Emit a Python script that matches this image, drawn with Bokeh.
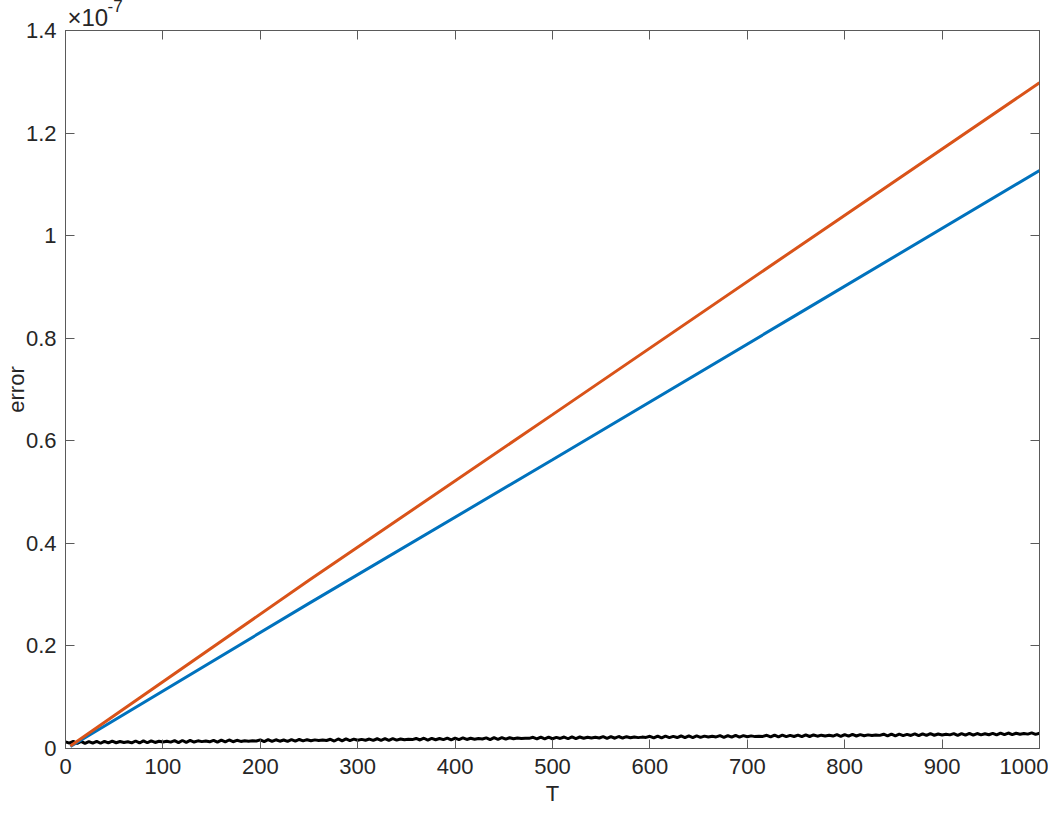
from bokeh.plotting import figure
from bokeh.models import LinearAxis, Range1d, FixedTicker, NumeralTickFormatter, Title
from bokeh.embed import file_html
from bokeh.resources import INLINE

# ---- data (error values in units of 1e-7) ----
exp_base_text = "\u00d710"
exp_power_text = "-7"
t_lines = [5, 250, 500, 750, 1000]
blue_err = [0.004, 0.283, 0.563, 0.845, 1.127]
orange_err = [0.005, 0.328, 0.651, 0.975, 1.298]

t_black = list(range(0, 1001, 4))
black_err = [
    0.0130, 0.0105, 0.0138, 0.0098, 0.0140, 0.0100, 0.0135, 0.0104, 0.0138, 0.0102,
    0.0140, 0.0108, 0.0142, 0.0112, 0.0136, 0.0118, 0.0132, 0.0110, 0.0146, 0.0108,
    0.0148, 0.0112, 0.0150, 0.0118, 0.0142, 0.0126, 0.0140, 0.0124, 0.0152, 0.0116,
    0.0156, 0.0120, 0.0158, 0.0126, 0.0150, 0.0134, 0.0146, 0.0130, 0.0160, 0.0124,
    0.0162, 0.0128, 0.0166, 0.0132, 0.0160, 0.0138, 0.0152, 0.0142, 0.0150, 0.0146,
    0.0168, 0.0136, 0.0172, 0.0138, 0.0170, 0.0142, 0.0166, 0.0140, 0.0174, 0.0144,
    0.0176, 0.0148, 0.0172, 0.0152, 0.0168, 0.0158, 0.0166, 0.0156, 0.0180, 0.0146,
    0.0186, 0.0150, 0.0188, 0.0154, 0.0182, 0.0160, 0.0178, 0.0162, 0.0184, 0.0158,
    0.0190, 0.0160, 0.0194, 0.0158, 0.0192, 0.0164, 0.0186, 0.0170, 0.0182, 0.0174,
    0.0196, 0.0166, 0.0200, 0.0164, 0.0198, 0.0170, 0.0194, 0.0172, 0.0202, 0.0168,
    0.0204, 0.0174, 0.0206, 0.0176, 0.0200, 0.0182, 0.0196, 0.0186, 0.0208, 0.0174,
    0.0212, 0.0180, 0.0214, 0.0182, 0.0210, 0.0190, 0.0204, 0.0194, 0.0200, 0.0198,
    0.0218, 0.0186, 0.0222, 0.0188, 0.0220, 0.0190, 0.0216, 0.0196, 0.0224, 0.0190,
    0.0226, 0.0194, 0.0224, 0.0200, 0.0220, 0.0206, 0.0218, 0.0204, 0.0230, 0.0196,
    0.0232, 0.0200, 0.0234, 0.0204, 0.0230, 0.0210, 0.0226, 0.0212, 0.0222, 0.0216,
    0.0238, 0.0206, 0.0242, 0.0208, 0.0240, 0.0212, 0.0236, 0.0214, 0.0244, 0.0210,
    0.0246, 0.0214, 0.0248, 0.0218, 0.0242, 0.0224, 0.0238, 0.0226, 0.0250, 0.0216,
    0.0252, 0.0220, 0.0254, 0.0222, 0.0250, 0.0228, 0.0246, 0.0232, 0.0240, 0.0236,
    0.0258, 0.0226, 0.0262, 0.0228, 0.0260, 0.0230, 0.0256, 0.0234, 0.0262, 0.0232,
    0.0266, 0.0234, 0.0264, 0.0240, 0.0260, 0.0244, 0.0258, 0.0242, 0.0270, 0.0236,
    0.0272, 0.0240, 0.0274, 0.0244, 0.0270, 0.0250, 0.0266, 0.0252, 0.0262, 0.0256,
    0.0278, 0.0246, 0.0282, 0.0248, 0.0280, 0.0252, 0.0276, 0.0254, 0.0284, 0.0250,
    0.0286, 0.0254, 0.0288, 0.0258, 0.0282, 0.0264, 0.0278, 0.0266, 0.0290, 0.0256,
    0.0292, 0.0262, 0.0294, 0.0260, 0.0292, 0.0266, 0.0288, 0.0268, 0.0296, 0.0264,
    0.0300, 0.0270, 0.0302, 0.0272, 0.0298, 0.0278, 0.0294, 0.0280, 0.0304, 0.0276,
    0.0296,
]

x_ticks = [0, 100, 200, 300, 400, 500, 600, 700, 800, 900, 1000]
y_ticks = [0, 0.2, 0.4, 0.6, 0.8, 1.0, 1.2, 1.4]
x_label = "T"
y_label = "error"

FONT = "Liberation Sans"
AX = "#262626"
FRAME = "#5a5a5a"

p = figure(width=1048, height=812, output_backend="svg", toolbar_location=None,
           x_range=Range1d(0, 1000), y_range=Range1d(0, 1.4))
p.min_border_left = 65
p.min_border_right = 9
p.min_border_top = 30
p.min_border_bottom = 64
p.background_fill_color = "white"
p.border_fill_color = "white"
p.outline_line_color = FRAME
p.outline_line_width = 1
p.xgrid.visible = False
p.ygrid.visible = False

def style_axis(ax, ticks, labels=True):
    ax.axis_line_color = FRAME
    ax.major_tick_line_color = FRAME
    ax.major_tick_in = 9
    ax.major_tick_out = 0
    ax.minor_tick_line_color = None
    ax.major_label_text_font = FONT
    ax.major_label_text_color = AX
    ax.major_label_text_font_size = "22px"
    if not labels:
        ax.major_label_overrides = {t: "" for t in ticks}
        ax.major_label_standoff = 0

xa = p.xaxis[0]
ya = p.yaxis[0]
xa.ticker = FixedTicker(ticks=x_ticks)
ya.ticker = FixedTicker(ticks=y_ticks)
ya.formatter = NumeralTickFormatter(format="0.[0]")
style_axis(xa, x_ticks)
style_axis(ya, y_ticks)
xa.major_label_standoff = 10
ya.major_label_standoff = 9
xa.axis_label = x_label
ya.axis_label = y_label
for ax in (xa, ya):
    ax.axis_label_text_font = FONT
    ax.axis_label_text_font_size = "22px"
    ax.axis_label_text_font_style = "normal"
    ax.axis_label_text_color = AX
xa.axis_label_standoff = 4
ya.axis_label_standoff = -6

top = LinearAxis(ticker=FixedTicker(ticks=x_ticks))
right = LinearAxis(ticker=FixedTicker(ticks=y_ticks))
style_axis(top, x_ticks, labels=False)
style_axis(right, y_ticks, labels=False)
p.add_layout(top, "above")
p.add_layout(right, "right")

# exponent label (MATLAB style): base just above the frame, power raised beside it
exp_base = Title(text=exp_base_text, align="left", offset=2, standoff=0,
                 text_font=FONT, text_font_size="24px", text_color=AX,
                 text_font_style="normal", vertical_align="bottom")
p.add_layout(exp_base, "above")
exp_power = Title(text=exp_power_text, align="left", offset=42, standoff=-20,
                  text_font=FONT, text_font_size="17px", text_color=AX,
                  text_font_style="normal", vertical_align="bottom")
p.add_layout(exp_power, "above")

p.line(t_black, black_err, line_color="black", line_width=3)
p.line(t_lines, blue_err, line_color="#0072BD", line_width=3)
p.line(t_lines, orange_err, line_color="#D95319", line_width=3)

open("out.html", "w").write(file_html(p, INLINE))
